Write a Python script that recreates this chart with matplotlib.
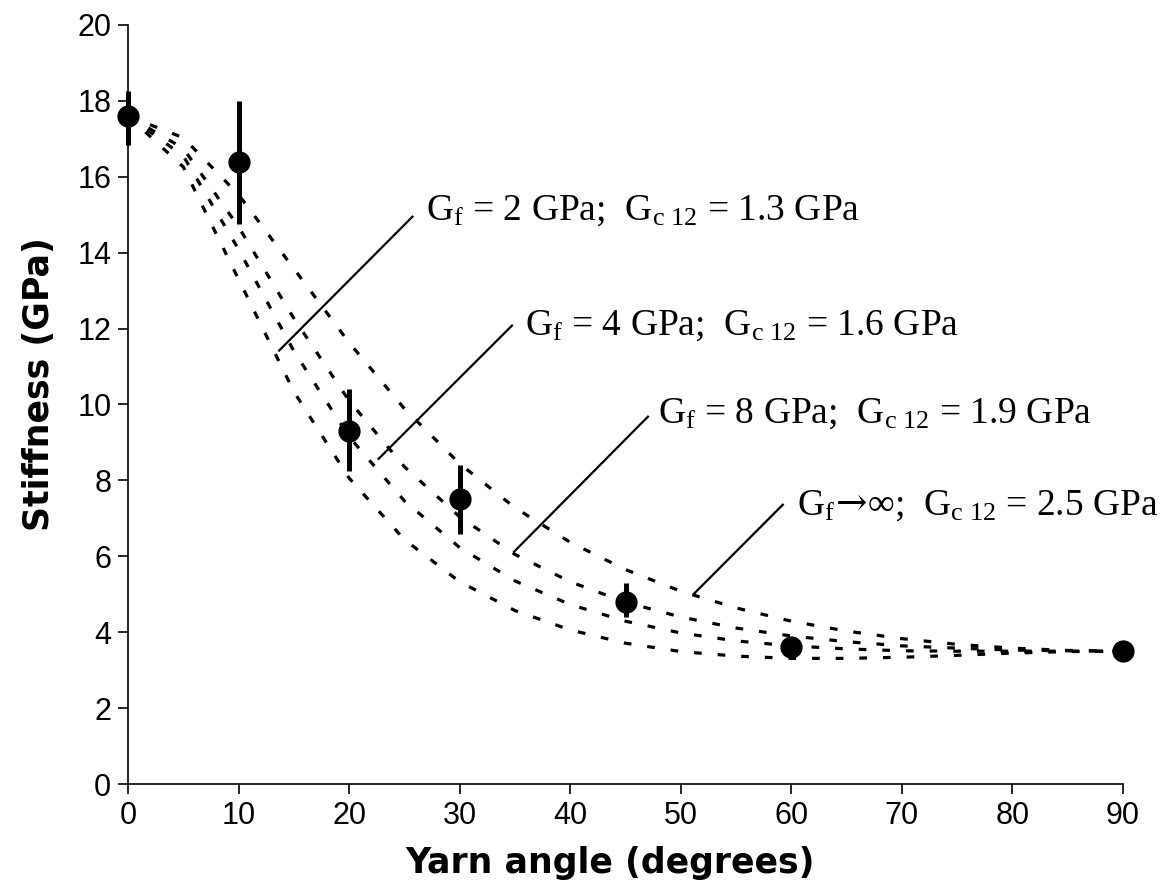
import matplotlib
matplotlib.use("Agg")
import matplotlib.pyplot as plt

plt.rcParams['mathtext.fontset'] = 'custom'
plt.rcParams['mathtext.rm'] = 'Liberation Serif'
plt.rcParams['mathtext.it'] = 'Liberation Serif'
plt.rcParams['mathtext.bf'] = 'Liberation Serif:bold'
plt.rcParams['mathtext.sf'] = 'DejaVu Serif'

# ---- experimental data ----
angles_exp = [0, 10, 20, 30, 45, 60, 90]
stiff_exp = [17.6, 16.4, 9.3, 7.5, 4.8, 3.6, 3.5]
stiff_lo = [16.85, 14.75, 8.25, 6.6, 4.4, 3.6, 3.5]
stiff_hi = [18.25, 18.0, 10.4, 8.4, 5.3, 3.6, 3.5]

# ---- model curves ----
angles_model = [0, 5, 10, 15, 20, 25, 30, 35, 40, 45, 50, 55, 60, 65, 70, 75, 80, 85, 90]
curve_g13 = [17.6, 16.26, 13.30, 10.34, 8.06, 6.44, 5.33, 4.57, 4.06, 3.71, 3.49, 3.37, 3.31, 3.31, 3.34, 3.39, 3.45, 3.49, 3.5]
curve_g16 = [17.6, 16.55, 14.09, 11.41, 9.15, 7.46, 6.23, 5.35, 4.73, 4.29, 3.98, 3.77, 3.64, 3.56, 3.51, 3.50, 3.50, 3.50, 3.5]
curve_g19 = [17.6, 16.75, 14.68, 12.27, 10.10, 8.36, 7.04, 6.05, 5.33, 4.79, 4.40, 4.11, 3.90, 3.75, 3.64, 3.58, 3.53, 3.51, 3.5]
curve_g25 = [17.6, 17.03, 15.53, 13.58, 11.63, 9.89, 8.44, 7.28, 6.37, 5.65, 5.08, 4.64, 4.29, 4.03, 3.83, 3.68, 3.58, 3.52, 3.5]

# ---- annotations ----
labels = [r'G$_\mathrm{f}$ = 2 GPa;  G$_\mathrm{c\ 12}$ = 1.3 GPa',
          r'G$_\mathrm{f}$ = 4 GPa;  G$_\mathrm{c\ 12}$ = 1.6 GPa',
          r'G$_\mathrm{f}$ = 8 GPa;  G$_\mathrm{c\ 12}$ = 1.9 GPa',
          r'G$_\mathrm{f}\!\mathsf{\rightarrow}\!\infty$;  G$_\mathrm{c\ 12}$ = 2.5 GPa']
label_x = [26.95, 35.9, 47.9, 60.5]
label_y = [14.86, 11.84, 9.53, 7.09]
leader_x0 = [13.6, 22.6, 34.85, 51.15]
leader_y0 = [11.4, 8.55, 6.1, 5.0]
leader_x1 = [25.8, 34.8, 47.1, 59.3]
leader_y1 = [14.97, 12.1, 9.7, 7.38]

W, H = 1167, 888
fig = plt.figure(figsize=(W / 100, H / 100), dpi=100)
ax = fig.add_axes([128 / W, (H - 784) / H, (1123 - 128) / W, (784 - 25) / H])

dash = (0, (2.4, 5.0))
for c in [curve_g13, curve_g16, curve_g19, curve_g25]:
    ax.plot(angles_model, c, color='black', lw=2.3, ls=dash, dash_capstyle='butt',
            clip_on=False, zorder=2)

yerr_lo = [s - l for s, l in zip(stiff_exp, stiff_lo)]
yerr_hi = [h - s for s, h in zip(stiff_exp, stiff_hi)]
ax.errorbar(angles_exp, stiff_exp, yerr=[yerr_lo, yerr_hi], fmt='o', color='black',
            ms=15, elinewidth=3.6, capsize=0, clip_on=False, zorder=3)

for x0, y0, x1, y1 in zip(leader_x0, leader_y0, leader_x1, leader_y1):
    ax.plot([x0, x1], [y0, y1], color='black', lw=1.6, solid_capstyle='butt', zorder=4)

for t, x, y in zip(labels, label_x, label_y):
    ax.text(x, y, t, fontsize=27, ha='left', va='baseline', color='black',
            family=['Liberation Serif', 'DejaVu Serif'], zorder=5)

ax.set_xlim(0, 90)
ax.set_ylim(0, 20)
ax.set_xticks(range(0, 91, 10))
ax.set_yticks(range(0, 21, 2))
for s in ['top', 'right']:
    ax.spines[s].set_visible(False)
for s in ['left', 'bottom']:
    ax.spines[s].set_linewidth(1.2)
ax.tick_params(axis='both', direction='out', length=7, width=1.2, labelsize=22, pad=5)
for lab in ax.get_xticklabels() + ax.get_yticklabels():
    lab.set_fontfamily('Liberation Sans')

ax.set_xlabel('Yarn angle (degrees)', fontsize=25, fontweight='bold', family='DejaVu Sans')
ax.set_ylabel('Stiffness (GPa)', fontsize=25, fontweight='bold', family='DejaVu Sans')
ax.xaxis.set_label_coords(0.4844, -0.0817)
ax.yaxis.set_label_coords(-0.072, 0.527)

fig.savefig('out.png', dpi=100)
